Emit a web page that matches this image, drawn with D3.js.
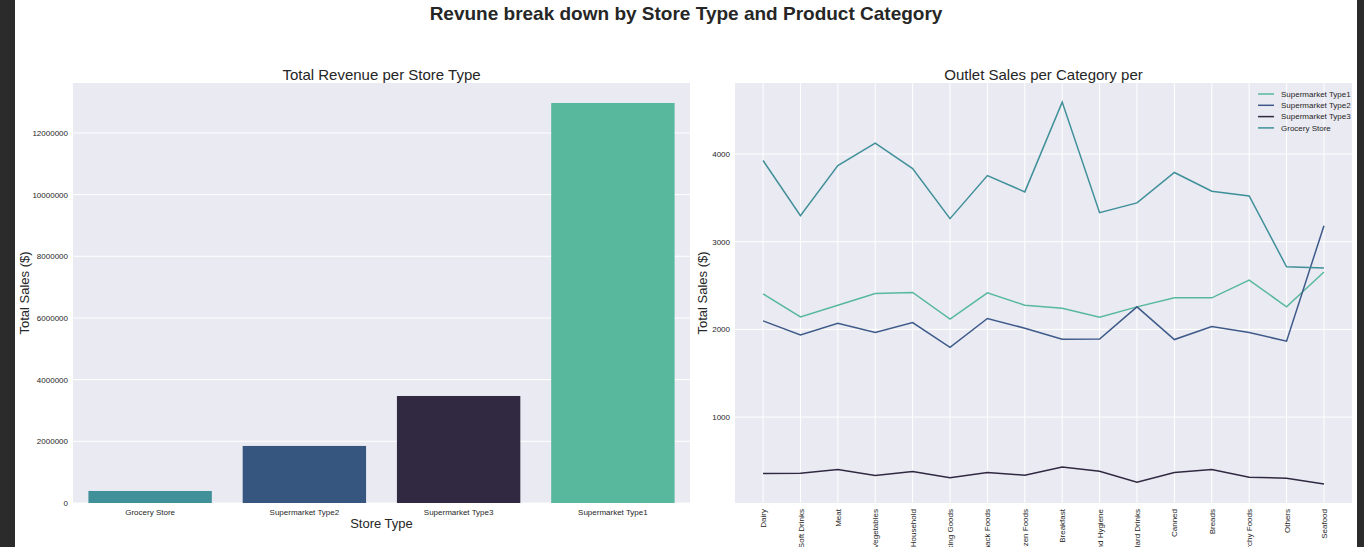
<!DOCTYPE html>
<html><head><meta charset="utf-8">
<script src="https://cdn.jsdelivr.net/npm/d3@7"></script>
<style>
html,body{margin:0;padding:0;background:#2b2b2b;}
svg{display:block;}
text{font-family:"Liberation Sans",Arial,sans-serif;fill:#262626;}
</style></head>
<body>
<svg id="chart" width="1364" height="547"></svg>
<script>
const storeTypes = ["Grocery Store","Supermarket Type2","Supermarket Type3","Supermarket Type1"];
const storeRevenue = [390000, 1850000, 3470000, 12970000];
const storeColors = ["#40909a","#36567f","#312941","#57b89e"];
const leftTicks = [0,2000000,4000000,6000000,8000000,10000000,12000000];

const categories = ["Dairy","Soft Drinks","Meat","Fruits and Vegetables","Household","Baking Goods","Snack Foods","Frozen Foods","Breakfast","Health and Hygiene","Hard Drinks","Canned","Breads","Starchy Foods","Others","Seafood"];
const seriesNames = ["Supermarket Type1","Supermarket Type2","Supermarket Type3","Grocery Store"];
const seriesColors = ["#57b89e","#3e5a8a","#312941","#40909a"];
const type1Sales = [2406,2143,2276,2409,2421,2117,2417,2276,2242,2139,2257,2360,2360,2562,2257,2654];
const type2Sales = [2097,1937,2071,1964,2078,1796,2124,2014,1888,1891,2257,1884,2032,1964,1865,3183];
const type3Sales = [356,360,402,333,379,307,368,337,432,383,257,368,402,314,303,238];
const grocerySales = [3926,3297,3869,4123,3834,3263,3754,3568,4592,3331,3442,3789,3575,3522,2714,2699];
const rightTicks = [1000,2000,3000,4000];

const svg = d3.select("#chart");
svg.append("rect").attr("x",15).attr("y",0).attr("width",1342).attr("height",547).attr("fill","#ffffff");

svg.append("text").attr("x",686).attr("y",20).attr("text-anchor","middle")
  .style("font-size","19px").style("font-weight","bold")
  .text("Revune break down by Store Type and Product Category");

const bg = "#eaeaf2";
// ---- Left chart
const L = {x0:73, x1:690, y0:83, y1:503};
svg.append("rect").attr("x",L.x0).attr("y",L.y0).attr("width",L.x1-L.x0).attr("height",L.y1-L.y0).attr("fill",bg);
const xb = d3.scaleBand().domain(storeTypes).range([L.x0,L.x1]).paddingInner(0.2).paddingOuter(0.1);
const yb = d3.scaleLinear().domain([0, d3.max(storeRevenue)*1.05]).range([L.y1,L.y0]);
const gl = svg.append("g");
gl.selectAll("line.grid").data(leftTicks).join("line")
  .attr("x1",L.x0).attr("x2",L.x1).attr("y1",d=>yb(d)).attr("y2",d=>yb(d))
  .attr("stroke","#ffffff").attr("stroke-width",1);
gl.selectAll("rect.bar").data(storeTypes).join("rect")
  .attr("x",d=>xb(d)).attr("width",xb.bandwidth())
  .attr("y",(d,i)=>yb(storeRevenue[i])).attr("height",(d,i)=>L.y1-yb(storeRevenue[i]))
  .attr("fill",(d,i)=>storeColors[i]);
const yAxisL = d3.axisLeft(yb).tickValues(leftTicks).tickFormat(d=>String(d)).tickSize(0).tickPadding(5);
const ga = svg.append("g").attr("transform",`translate(${L.x0},0)`).call(yAxisL);
ga.select(".domain").remove();
ga.selectAll("text").style("font-size","8px").style("font-family","Liberation Sans, Arial, sans-serif").attr("fill","#262626");
const xAxisL = d3.axisBottom(xb).tickSize(0).tickPadding(6);
const gx = svg.append("g").attr("transform",`translate(0,${L.y1})`).call(xAxisL);
gx.select(".domain").remove();
gx.selectAll("text").style("font-size","8px").style("font-family","Liberation Sans, Arial, sans-serif").attr("fill","#262626");
svg.append("text").attr("x",(L.x0+L.x1)/2).attr("y",80).attr("text-anchor","middle").style("font-size","15px").text("Total Revenue per Store Type");
svg.append("text").attr("x",(L.x0+L.x1)/2).attr("y",528).attr("text-anchor","middle").style("font-size","13px").text("Store Type");
svg.append("text").attr("transform",`translate(29,${(L.y0+L.y1)/2}) rotate(-90)`).attr("text-anchor","middle").style("font-size","13px").text("Total Sales ($)");

// ---- Right chart
const R = {x0:735, x1:1352, y0:83, y1:503};
svg.append("rect").attr("x",R.x0).attr("y",R.y0).attr("width",R.x1-R.x0).attr("height",R.y1-R.y0).attr("fill",bg);
const allSeries = [type1Sales,type2Sales,type3Sales,grocerySales];
const xp = d3.scalePoint().domain(categories).range([R.x0,R.x1]).padding(0.75);
const ymin = d3.min(allSeries.flat()), ymax = d3.max(allSeries.flat());
const pad = (ymax-ymin)*0.05;
const yr = d3.scaleLinear().domain([ymin-pad, ymax+pad]).range([R.y1,R.y0]);
const gr = svg.append("g");
gr.selectAll("line.hg").data(rightTicks).join("line")
  .attr("x1",R.x0).attr("x2",R.x1).attr("y1",d=>yr(d)).attr("y2",d=>yr(d))
  .attr("stroke","#ffffff").attr("stroke-width",1);
gr.selectAll("line.vg").data(categories).join("line")
  .attr("x1",d=>xp(d)).attr("x2",d=>xp(d)).attr("y1",R.y0).attr("y2",R.y1)
  .attr("stroke","#ffffff").attr("stroke-width",1);
const line = d3.line().x((d,i)=>xp(categories[i])).y(d=>yr(d));
gr.selectAll("path.series").data(allSeries).join("path")
  .attr("d",d=>line(d)).attr("fill","none")
  .attr("stroke",(d,i)=>seriesColors[i]).attr("stroke-width",1.5);
const yAxisR = d3.axisLeft(yr).tickValues(rightTicks).tickFormat(d=>String(d)).tickSize(0).tickPadding(5);
const gay = svg.append("g").attr("transform",`translate(${R.x0},0)`).call(yAxisR);
gay.select(".domain").remove();
gay.selectAll("text").style("font-size","8px").style("font-family","Liberation Sans, Arial, sans-serif").attr("fill","#262626");
const xAxisR = d3.axisBottom(xp).tickSize(0).tickPadding(0);
const gxr = svg.append("g").attr("transform",`translate(0,${R.y1})`).call(xAxisR);
gxr.select(".domain").remove();
gxr.selectAll("text").style("font-size","8px").style("font-family","Liberation Sans, Arial, sans-serif").attr("fill","#262626")
  .attr("transform","rotate(-90)").attr("text-anchor","end").attr("x",-6).attr("y",0).attr("dy","0.32em");
svg.append("text").attr("x",(R.x0+R.x1)/2).attr("y",80).attr("text-anchor","middle").style("font-size","15px").text("Outlet Sales per Category per");
svg.append("text").attr("transform",`translate(707,${(R.y0+R.y1)/2}) rotate(-90)`).attr("text-anchor","middle").style("font-size","13px").text("Total Sales ($)");

// legend
const lg = svg.append("g").attr("transform","translate(1258,94)");
seriesNames.forEach((n,i)=>{
  lg.append("line").attr("x1",0).attr("x2",16).attr("y1",i*11.3).attr("y2",i*11.3).attr("stroke",seriesColors[i]).attr("stroke-width",1.5);
  lg.append("text").attr("x",23).attr("y",i*11.3).attr("dy","0.33em").style("font-size","8px").text(n);
});
</script>
</body></html>
